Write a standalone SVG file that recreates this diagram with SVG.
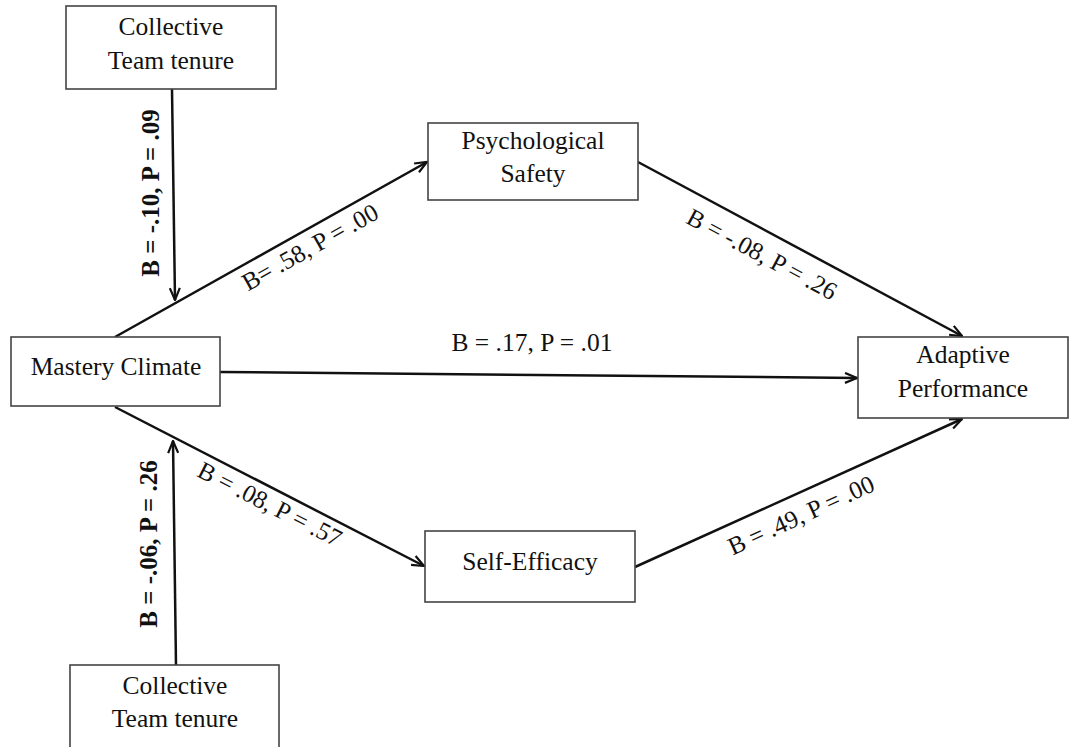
<svg xmlns="http://www.w3.org/2000/svg" width="1069" height="747" viewBox="0 0 1069 747">
<style>
.box{fill:#fff;stroke:#444;stroke-width:1.6}
.t{font-family:"Liberation Serif","Times New Roman",serif;font-size:25.5px;fill:#111;text-anchor:middle}
.lb{font-family:"Liberation Serif","Times New Roman",serif;font-size:25px;fill:#111;text-anchor:middle;dominant-baseline:central}
.bold{font-weight:bold}
.c{stroke:#111;stroke-width:2.5;fill:none;marker-end:url(#ah)}
</style>
<defs>
<marker id="ah" markerUnits="userSpaceOnUse" viewBox="0 0 14 12" refX="13" refY="6" markerWidth="14" markerHeight="12" orient="auto">
<path d="M1,1 L13,6 L1,11" fill="none" stroke="#111" stroke-width="2.2"/>
</marker>
</defs>
<rect width="1069" height="747" fill="#fff"/>
<g id="connectors">
<line class="c" x1="172" y1="89" x2="175" y2="300"/>
<line class="c" x1="176" y1="665" x2="173" y2="441"/>
<line class="c" x1="115" y1="337" x2="427" y2="162"/>
<line class="c" x1="638" y1="162" x2="962" y2="336"/>
<line class="c" x1="220" y1="372" x2="857" y2="378"/>
<line class="c" x1="115" y1="407" x2="424" y2="566"/>
<line class="c" x1="635" y1="567" x2="962" y2="419"/>
<text class="lb bold" transform="translate(150,193) rotate(-90)">B = -.10, P = .09</text>
<text class="lb bold" transform="translate(148,544) rotate(-90)">B = -.06, P = .26</text>
<text class="lb" transform="translate(310,247) rotate(-29.2)">B= .58, P = .00</text>
<text class="lb" transform="translate(762,254) rotate(28)">B = -.08, P = .26</text>
<text class="t" x="532" y="351">B = .17, P = .01</text>
<text class="lb" transform="translate(270,504) rotate(27)">B = .08, P = .57</text>
<text class="lb" transform="translate(801,515) rotate(-24.5)">B = .49, P = .00</text>
</g>
<g id="tenure-top">
<rect class="box" x="66" y="6" width="210" height="83"/>
<text class="t" x="171" y="35">Collective</text>
<text class="t" x="171" y="69">Team tenure</text>
</g>
<g id="psych-safety">
<rect class="box" x="428" y="123" width="210" height="77"/>
<text class="t" x="533" y="149">Psychological</text>
<text class="t" x="533" y="182">Safety</text>
</g>
<g id="mastery">
<rect class="box" x="11" y="337" width="209" height="69"/>
<text class="t" x="116" y="375">Mastery Climate</text>
</g>
<g id="adaptive">
<rect class="box" x="858" y="337" width="210" height="81"/>
<text class="t" x="963" y="363">Adaptive</text>
<text class="t" x="963" y="397">Performance</text>
</g>
<g id="self-efficacy">
<rect class="box" x="425" y="531" width="210" height="71"/>
<text class="t" x="530" y="570">Self-Efficacy</text>
</g>
<g id="tenure-bottom">
<rect class="box" x="70" y="665" width="209" height="90"/>
<text class="t" x="175" y="694">Collective</text>
<text class="t" x="175" y="727">Team tenure</text>
</g>
</svg>
